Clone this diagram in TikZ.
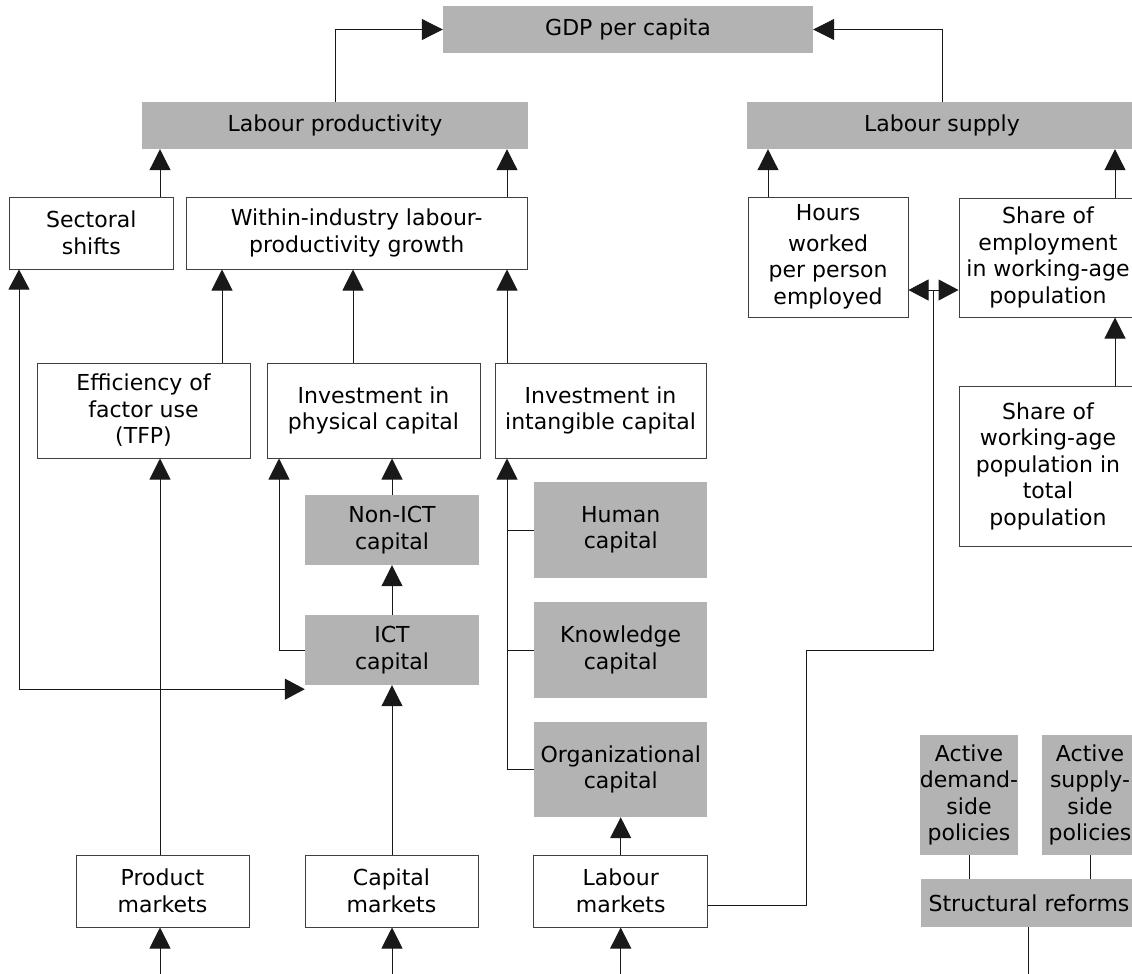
\documentclass[tikz,border=0pt]{standalone}
\usepackage{fontspec}
\setmainfont{DejaVu Sans}
\usetikzlibrary{arrows.meta}
\definecolor{boxgray}{RGB}{179,179,179}

\begin{document}
\begin{tikzpicture}[x=1pt, y=-1pt,
    every node/.style={font=\fontsize{22}{26.5}\selectfont, align=center, inner sep=0pt},
    wbox/.style={draw=black!75, fill=white, line width=1pt},
    gbox/.style={fill=boxgray},
    conn/.style={draw=black!90, line width=1pt},
    arr/.style={conn, -{Triangle[length=21pt, width=21pt]}},
    darr/.style={conn, {Triangle[length=20pt, width=21pt]}-{Triangle[length=20pt, width=21pt]}}]
    \clip (0,0) rectangle (1132,974);

    % Top level
    \node[gbox, minimum width=370pt, minimum height=47pt] (gdp) at (628,29.5) {GDP per capita};
    \node[gbox, minimum width=386pt, minimum height=47pt] (lprod) at (335,125.5) {Labour productivity};
    \node[gbox, minimum width=391pt, minimum height=47pt] (lsup) at (942,125.5) {Labour supply};

    % Second row
    \node[wbox, minimum width=164pt, minimum height=72pt] (sect) at (91.3,233) {Sectoral\\shifts};
    \node[wbox, minimum width=341pt, minimum height=72pt] (within) at (356.7,233) {Within-industry labour-\\productivity growth};
    \node[wbox, minimum width=160pt, minimum height=120pt] (hours) at (828,257) {Hours\\[4pt]worked\\per person\\employed};
    \node[wbox, minimum width=178pt, minimum height=119pt] (shemp) at (1048,257.5) {Share of\\employment\\in working-age\\population};

    % Sources of productivity growth
    \node[wbox, minimum width=213pt, minimum height=95pt] (eff) at (143.5,410.5) {Efficiency of\\factor use\\(TFP)};
    \node[wbox, minimum width=213pt, minimum height=95pt] (phys) at (373.5,410.5) {Investment in\\physical capital};
    \node[wbox, minimum width=211pt, minimum height=95pt] (intang) at (600.5,410.5) {Investment in\\intangible capital};
    \node[wbox, minimum width=178pt, minimum height=160pt] (shwork) at (1048,466) {Share of\\working-age\\population in\\total\\population};

    % Capital types
    \node[gbox, minimum width=174pt, minimum height=70pt] (nonict) at (392,530) {Non-ICT\\capital};
    \node[gbox, minimum width=174pt, minimum height=70pt] (ict) at (392,650) {ICT\\capital};
    \node[gbox, minimum width=173.5pt, minimum height=96pt] (human) at (620.7,530) {Human\\capital};
    \node[gbox, minimum width=173.5pt, minimum height=96pt] (knowl) at (620.7,650) {Knowledge\\capital};
    \node[gbox, minimum width=173.5pt, minimum height=95pt] (org) at (620.7,769.5) {Organizational\\capital};

    % Markets and policies
    \node[wbox, minimum width=173pt, minimum height=72pt] (prod) at (162.5,891) {Product\\markets};
    \node[wbox, minimum width=173pt, minimum height=72pt] (capm) at (391.5,891) {Capital\\markets};
    \node[wbox, minimum width=173.5pt, minimum height=72pt] (labm) at (620.7,891) {Labour\\markets};
    \node[gbox, minimum width=96pt, minimum height=120pt] (actd) at (969,795) {Active\\demand-\\side\\policies};
    \node[gbox, minimum width=96pt, minimum height=120pt] (acts) at (1090,795) {Active\\supply-\\side\\policies};
    \node[gbox, minimum width=216pt, minimum height=48pt] (struct) at (1029,903) {Structural reforms};

    % Free ends at the bottom
    \coordinate (prodin) at (160,980);
    \coordinate (capmin) at (392,980);
    \coordinate (labmin) at (620.7,980);
    \coordinate (structout) at (1028,980);
    \coordinate (split) at (933.5,290);

    % Into GDP per capita
    \draw[arr] (lprod.north) |- (gdp.west);
    \draw[arr] (lsup.north) |- (gdp.east);

    % Into labour productivity and labour supply
    \draw[arr] (sect.north -| 160,0) -- (lprod.south -| 160,0);
    \draw[arr] (within.north -| 507,0) -- (lprod.south -| 507,0);
    \draw[arr] (hours.north -| 768,0) -- (lsup.south -| 768,0);
    \draw[arr] (shemp.north -| 1115,0) -- (lsup.south -| 1115,0);

    % Into within-industry growth
    \draw[arr] (eff.north -| 222,0) -- (within.south -| 222,0);
    \draw[arr] (phys.north -| 353,0) -- (within.south -| 353,0);
    \draw[arr] (intang.north -| 507,0) -- (within.south -| 507,0);

    % Sectoral shifts and ICT capital
    \draw[darr] (sect.south -| 19,0) |- ([yshift=-4pt]ict.south west);

    % Physical capital
    \draw[arr] (nonict.north) -- (phys.south -| nonict.north);
    \draw[arr] (ict.north) -- (nonict.south);
    \draw[arr] (ict.west) -| (phys.south -| 279,0);

    % Intangible capital
    \draw[arr] (org.west) -| (intang.south -| 507,0);
    \draw[conn] (human.west) -- (human.west -| 507,0);
    \draw[conn] (knowl.west) -- (knowl.west -| 507,0);

    % Markets
    \draw[arr] (prod.north -| 160,0) -- (eff.south -| 160,0);
    \draw[arr] (capm.north -| ict.south) -- (ict.south);
    \draw[arr] (labm.north) -- (org.south);
    \draw[arr] (prodin) -- (prodin |- prod.south);
    \draw[arr] (capmin) -- (capmin |- capm.south);
    \draw[arr] (labmin) -- (labmin |- labm.south);

    % Labour markets to labour supply
    \draw[conn] ([yshift=-14pt]labm.east) -| (806.5,650) -| (split);
    \draw[darr] (split -| hours.east) -- (split -| shemp.west);
    \draw[arr] (shwork.north -| 1115,0) -- (shemp.south -| 1115,0);

    % Policies
    \draw[conn] (actd.south) -- (struct.north -| actd.south);
    \draw[conn] (acts.south) -- (struct.north -| acts.south);
    \draw[conn] (struct.south -| structout) -- (structout);
\end{tikzpicture}
\end{document}
